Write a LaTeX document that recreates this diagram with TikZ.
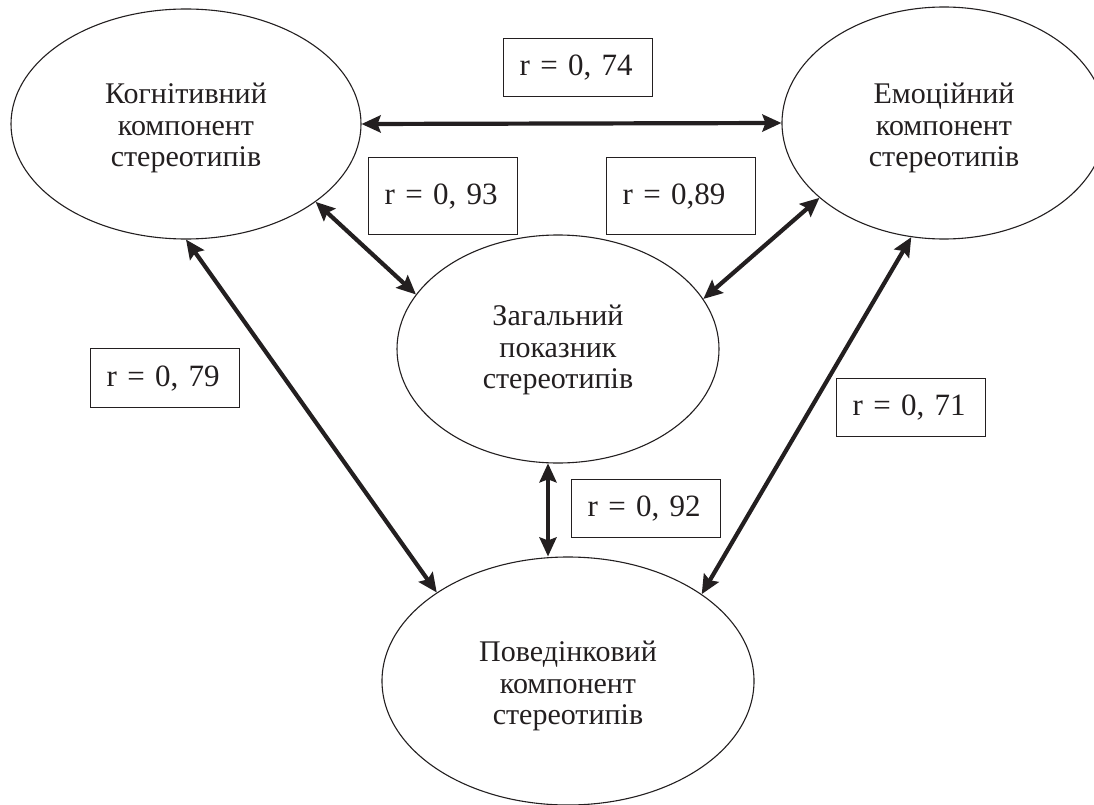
\documentclass[tikz,border=0pt]{standalone}
\usepackage{fontspec}
\setmainfont{Liberation Serif}
\usetikzlibrary{arrows.meta,shapes.geometric}
\definecolor{ink}{RGB}{35,31,32}
\begin{document}
\begin{tikzpicture}[x=1pt,y=-1pt,
 ell/.style={draw=ink, line width=1.1pt, ellipse, inner sep=0pt},
 etext/.style={text=ink, align=center, font=\fontsize{30}{31.5}\selectfont},
 rbox/.style={draw=ink, line width=1.3pt, rectangle, anchor=north west, inner xsep=16pt, inner ysep=0pt, text width=117pt, align=left, font=\fontsize{31}{36}\selectfont, text=ink},
 link/.style={draw=ink, line width=4.2pt, {Stealth[length=19pt,width=17pt,inset=3pt]}-{Stealth[length=19pt,width=17pt,inset=3pt]}}
]
\useasboundingbox (0,0) rectangle (1094,805);
\clip (0,0) rectangle (1094,805);
\fill[white] (0,0) rectangle (1094,805);

% ellipses
\node[ell, minimum width=350pt, minimum height=230pt] (tl) at (186,124) {};
\node[ell, minimum width=324pt, minimum height=232pt] (tr) at (944,123) {};
\node[ell, minimum width=322pt, minimum height=228pt] (mid) at (558,349) {};
\node[ell, minimum width=372pt, minimum height=248pt] (bot) at (568,681) {};

% ellipse texts
\node[etext] (tlt) at (186,128) {Когнітивний\\компонент\\стереотипів};
\node[etext] (trt) at (944,128) {Емоційний\\компонент\\стереотипів};
\node[etext] (midt) at (558,350) {Загальний\\показник\\стереотипів};
\node[etext] (bott) at (568,686) {Поведінковий\\компонент\\стереотипів};

% boxes
\node[rbox, minimum height=58pt] (b74) at (503,38) {r = 0, 74};
\node[rbox, minimum height=77pt] (b93) at (368,157) {r = 0, 93};
\node[rbox, minimum height=77pt] (b89) at (606,157) {r = 0,89};
\node[rbox, minimum height=59pt] (b79) at (90,348) {r = 0, 79};
\node[rbox, minimum height=58pt] (b71) at (836,378) {r = 0, 71};
\node[rbox, minimum height=58pt] (b92) at (571,479) {r = 0, 92};

% connectors
\draw[link] (tl.east) -- (tr.west);
\draw[link] (tl.-31.5) -- (mid.159.6);
\draw[link] (tr.-149.8) -- (mid.19.7);
\draw[link] (tl.south) -- (bot.146.1);
\draw[link] (tr.-106.4) -- (bot.33.7);
\draw[link] (mid.-95.5) -- (mid.-95.5 |- bot.north);
\end{tikzpicture}
\end{document}
